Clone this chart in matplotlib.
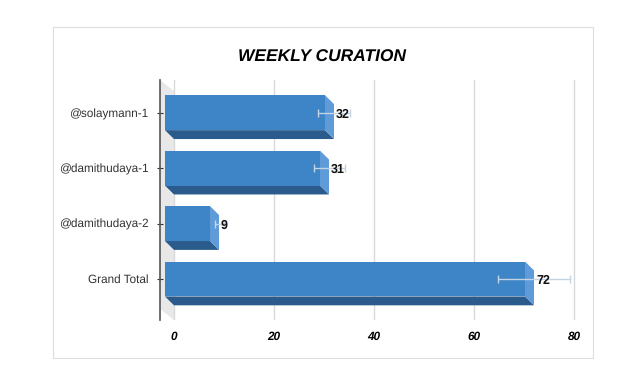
import matplotlib.pyplot as plt
from matplotlib.patches import Polygon, Rectangle

plt.rcParams['font.family'] = ['Liberation Sans', 'DejaVu Sans']
plt.rcParams['text.hinting'] = 'no_hinting'

# data
categories = ["Grand Total", "@damithudaya-2", "@damithudaya-1", "@solaymann-1"]
values = [72, 9, 31, 32]
errors = [7.2, 0.9, 3.1, 3.2]
x_ticks = [0, 20, 40, 60, 80]

# 3d look
dx = 1.8      # depth offset in x units
dy = 0.16     # depth offset in y units
h = 0.63      # bar height
front = "#3d85c6"
side = "#5f9bd8"
bottom = "#2b5a8c"


def main():
    fig = plt.figure(figsize=(6.4, 3.82), dpi=100)
    fig.patches.append(Rectangle((53 / 640, 24 / 382), 540 / 640, 331 / 382,
                                 transform=fig.transFigure, fill=False,
                                 edgecolor="#dddddd", lw=0.8))
    ax = fig.add_axes([160 / 640, 62 / 382, 424 / 640, 240 / 382])

    ys = list(range(len(categories)))
    ax.set_xlim(-2.8, 82)
    ax.set_ylim(-0.74, 3.59)

    # left wall
    ax.add_patch(Polygon([(-2.8, 3.59), (0, 3.59 - 0.2), (0, -0.74),
                          (-2.8, -0.74 + 0.2)], closed=True,
                         facecolor="#e8e8e8", edgecolor="none", zorder=0))

    for t in x_ticks:
        ax.axvline(t, color="#d9d9d9", lw=1, zorder=0.5)

    ax.barh(ys, values, height=h, left=-dx, color=front, zorder=3)
    for y, v in zip(ys, values):
        lo = y - h / 2
        hi = y + h / 2
        ax.add_patch(Polygon([(-dx, lo), (v - dx, lo), (v, lo - dy), (0, lo - dy)],
                             closed=True, facecolor=bottom, edgecolor="none", zorder=2))
        ax.add_patch(Polygon([(v - dx, hi), (v, hi - dy), (v, lo - dy), (v - dx, lo)],
                             closed=True, facecolor=side, edgecolor="none", zorder=2))

    ax.errorbar(values, ys, xerr=errors, fmt="none", ecolor="#c5d4e4",
                elinewidth=1, capsize=3, capthick=1, zorder=4)

    for y, v in zip(ys, values):
        ax.text(v + 0.4, y - 0.03, str(v), va="center", ha="left",
                fontsize=9, fontweight="bold", color="#111111", zorder=5)

    ax.set_yticks(ys)
    ax.set_yticklabels(categories, fontsize=8.5, color="#333333")
    ax.set_xticks(x_ticks)
    ax.set_xticklabels([str(t) for t in x_ticks], fontsize=8.5,
                       fontweight="bold", fontstyle="italic")
    ax.tick_params(axis="x", length=0, pad=8)
    ax.tick_params(axis="y", length=5, width=0.8, color="#333333", pad=6,
                   direction="inout")

    for s in ["top", "right", "bottom"]:
        ax.spines[s].set_visible(False)
    ax.spines["left"].set_color("#555555")
    ax.spines["left"].set_linewidth(1.2)

    fig.text(322 / 640, 1 - 57 / 382, "WEEKLY CURATION", ha="center",
             va="center", fontsize=12.5, fontweight="bold", fontstyle="italic")

    fig.savefig("out.png", dpi=100, facecolor="white")


if __name__ == "__main__":
    main()
